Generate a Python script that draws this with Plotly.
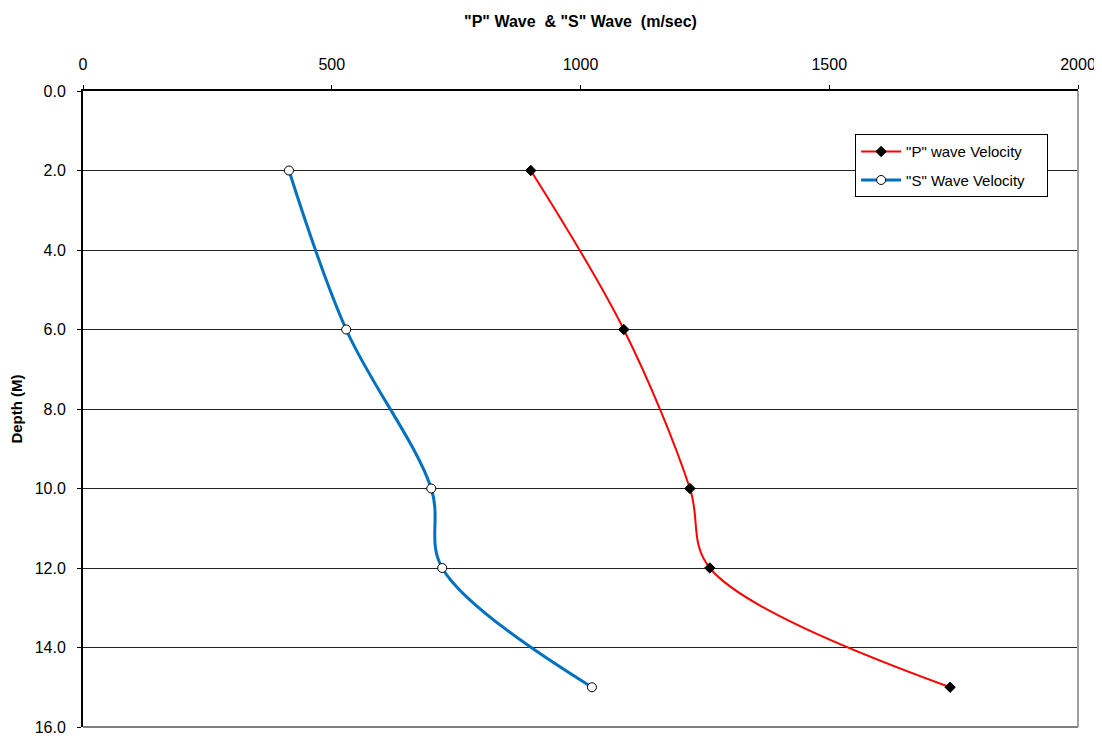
import plotly.graph_objects as go

depth = [2, 6, 10, 12, 15]
p_wave = [900, 1087, 1220, 1260, 1743]
s_wave = [414, 529, 700, 722, 1023]
x_ticks = [0, 500, 1000, 1500, 2000]
y_ticks = [0, 2, 4, 6, 8, 10, 12, 14, 16]
series_names = ['"P" wave Velocity', '"S" Wave Velocity']

FONT = "Liberation Sans, Arial, sans-serif"
W, H = 1094, 731  # page body has an 8px margin
PAD = "&nbsp;" * 4

fig = go.Figure()
fig.add_trace(go.Scatter(
    x=p_wave, y=depth, name=series_names[0] + PAD, mode="lines+markers", legendgroup="p",
    line=dict(color="#FF0000", width=2, shape="spline", smoothing=1),
    marker=dict(symbol="diamond", size=8, color="black", line=dict(color="black", width=1)),
))
fig.add_trace(go.Scatter(
    x=s_wave, y=depth, name=series_names[1] + PAD, mode="lines+markers", legendgroup="s",
    line=dict(color="#0070C0", width=3, shape="spline", smoothing=1),
    marker=dict(symbol="circle", size=9, color="white", line=dict(color="black", width=1)),
))

fig.update_layout(
    width=W, height=H,
    margin=dict(l=75, r=24, t=83, b=12, autoexpand=False),
    paper_bgcolor="white", plot_bgcolor="white",
    font=dict(family=FONT, size=16, color="black"),
    title=dict(text='<b>"P" Wave  &amp; "S" Wave  (m/sec)</b>', x=0.5, xanchor="center",
               xref="paper", y=1 - 13 / H, yanchor="middle", font=dict(size=16)),
    showlegend=True,
    legend=dict(x=0.776, y=0.932, xanchor="left", yanchor="top",
                bgcolor="white", bordercolor="black", borderwidth=1,
                font=dict(size=15), tracegroupgap=6, itemwidth=40),
)
fig.update_xaxes(
    side="top", range=[0, 2000], tickvals=x_ticks, ticktext=[str(v) for v in x_ticks],
    showline=True, linecolor="black", linewidth=2, mirror=False, automargin=False,
    ticks="outside", ticklen=4, tickcolor="black", showgrid=False, zeroline=False,
    tickfont=dict(size=16), ticklabelstandoff=9,
)
fig.update_yaxes(
    range=[16, 0], tickvals=y_ticks, ticktext=[f"{v:.1f}" for v in y_ticks],
    showline=True, linecolor="black", linewidth=2, automargin=False,
    ticks="outside", ticklen=4, tickcolor="black",
    showgrid=True, gridcolor="#222222", gridwidth=1, zeroline=False,
    title=dict(text="<b>Depth (M)</b>", font=dict(size=15), standoff=16),
    tickfont=dict(size=16), ticklabelstandoff=8,
)
# right and bottom gray border
fig.add_shape(type="line", xref="paper", yref="paper", x0=1, x1=1, y0=0, y1=1,
              line=dict(color="#A0A0A0", width=2))
fig.add_shape(type="line", xref="paper", yref="paper", x0=0, x1=1, y0=0, y1=0,
              line=dict(color="#808080", width=2))

fig.write_html("out.html")
